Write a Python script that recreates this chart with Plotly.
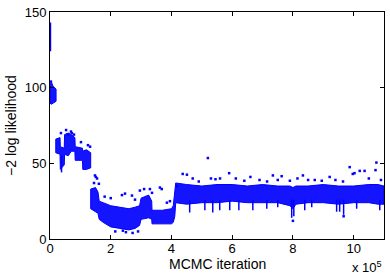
import plotly.graph_objects as go

# ---- data (iteration, -2 log likelihood) ----
# dense band of the trace: per knot lower / upper envelope, grouped in segments
band_seg = [0, 0, 0, 0,
            1, 1, 1, 1, 1, 1, 1, 1, 1, 1, 1, 1, 1,
            2, 2, 2, 2, 2, 2, 2, 2, 2, 2, 2,
            2, 2, 2, 2, 2, 2, 2, 2,
            2, 2, 2, 2, 2, 2, 2, 2, 2, 2,
            2, 2, 2, 2, 2, 2, 2]
band_iter = [0, 4000, 10000, 20000,
             19000, 33000, 34000, 47000, 48000, 60000, 70000, 82000, 83000, 107000, 108000, 120000, 134000,
             134000, 150000, 158000, 162000, 175000, 200000, 230000, 260000, 280000, 295000, 300000,
             325000, 335000, 336000, 370000, 400000, 406000, 411000, 414000,
             450000, 500000, 550000, 600000, 650000, 700000, 750000, 790000, 800000, 810000,
             850000, 900000, 950000, 1000000, 1050000, 1080000, 1100000]
band_lo = [90, 89, 90, 91,
           57, 56, 46, 49, 56, 55, 58, 58, 52, 52, 46, 46, 47,
           20, 18, 17, 13, 11, 8, 7, 6, 7, 9, 13,
           14, 13, 10, 10, 10, 11, 15, 24,
           23, 24, 24, 25, 24, 24, 24, 22, 20, 23,
           24, 24, 23, 24, 24, 23, 23]
band_hi = [101, 104, 101, 99,
           66, 67, 61, 60, 69, 70, 69, 67, 61, 60, 58, 59, 57,
           33, 34, 31, 25, 24, 22, 21, 20, 21, 22, 27,
           29, 25, 19, 19, 20, 22, 30, 37,
           36, 35, 36, 36, 35, 36, 35, 35, 34, 35,
           35, 36, 35, 35, 36, 36, 35]

# narrow excursions (vertical runs of samples)
spike_iter = [1500, 38000, 460000, 510000, 536000, 559000, 592000, 622000, 668000, 714000,
              750000, 796000, 803000, 839000, 862000, 944000, 954000, 967000, 1010000, 1086000]
spike_lo = [124, 44, 17.5, 19, 17.5, 19, 19, 19, 19, 20,
            21, 14, 15, 19, 21, 18, 18, 16, 20, 19]
spike_hi = [143, 55, 26, 26, 26, 26, 26, 26, 26, 26,
            26, 26, 26, 26, 26, 26, 26, 26, 26, 26]

# isolated samples outside the band
out_iter = [3000, 36000, 53000, 59000, 69000, 72000, 79000, 102000, 125000, 132000,
            145000, 148000, 151000, 155000, 161000,
            180000, 200000, 215000, 237000, 240000, 247000, 250000, 270000, 272000, 280000,
            290000, 296000, 310000, 329000, 336000, 362000, 368000, 385000, 395000, 418000,
            437000, 451000, 470000, 490000, 520000, 530000, 545000, 560000, 590000, 612000,
            640000, 660000, 690000, 715000, 734000, 750000, 763000, 790000, 800000, 815000,
            833000, 850000, 872000, 895000, 921000, 940000, 965000, 967000, 987000, 997000,
            1003000, 1020000, 1036000, 1050000, 1072000, 1075000, 1090000]
out_val = [104, 70, 72, 69, 71, 70, 69, 64, 62, 61,
           37, 42, 41, 40, 36.5,
           28, 27, 5, 29, 5.5, 30, 4.5, 28.7, 4, 26,
           5, 32, 33, 33, 30.5, 34, 33, 24, 25, 35,
           43, 42.5, 40, 38, 53.5, 40, 39.5, 40, 43.5, 40,
           38.5, 41, 39, 38, 42, 39, 41.5, 38.5, 12, 40,
           42, 39, 39, 38.5, 41, 39, 38, 15, 47.5, 43,
           43.5, 45, 45, 40, 45.5, 50.5, 39]

x_tick_vals = [0, 200000, 400000, 600000, 800000, 1000000]
x_tick_text = ["0", "2", "4", "6", "8", "10"]
y_tick_vals = [0, 50, 100, 150]

BLUE = "rgb(0,0,255)"
FONT = "Liberation Sans, Arial, Helvetica, sans-serif"

# ---- build band polygons ----
poly_x, poly_y = [], []
for s in sorted(set(band_seg)):
    idx = [i for i, g in enumerate(band_seg) if g == s]
    xs = [band_iter[i] for i in idx]
    lo = [band_lo[i] for i in idx]
    hi = [band_hi[i] for i in idx]
    poly_x += xs + xs[::-1] + [xs[0], None]
    poly_y += hi + lo[::-1] + [hi[0], None]

spx, spy = [], []
for i, lo, hi in zip(spike_iter, spike_lo, spike_hi):
    spx += [i, i, None]
    spy += [lo, hi, None]

fig = go.Figure()
fig.add_trace(go.Scatter(x=poly_x, y=poly_y, mode="lines", fill="toself",
                         fillcolor="rgba(0,0,255,0.92)", line=dict(color=BLUE, width=1),
                         hoverinfo="skip", showlegend=False))
fig.add_trace(go.Scatter(x=spx, y=spy, mode="lines",
                         line=dict(color=BLUE, width=1.5),
                         hoverinfo="skip", showlegend=False))
fig.add_trace(go.Scatter(x=out_iter, y=out_val, mode="markers",
                         marker=dict(color=BLUE, size=2.5, symbol="square"),
                         showlegend=False))

axis_common = dict(showline=True, linecolor="black", linewidth=1, mirror="ticks",
                   ticks="inside", ticklen=4, tickcolor="black", showgrid=False,
                   zeroline=False, tickfont=dict(family=FONT, size=13, color="black"))

fig.update_layout(
    width=390, height=274,
    margin=dict(l=50, r=5, t=9, b=35),
    paper_bgcolor="white", plot_bgcolor="white",
    xaxis=dict(range=[0, 1100000], tickvals=x_tick_vals, ticktext=x_tick_text,
               ticklabelstandoff=-3, **axis_common),
    yaxis=dict(range=[0, 150], tickvals=y_tick_vals,
               title=dict(text="\u22122 log likelihood", font=dict(family=FONT, size=14, color="black"),
                          standoff=4),
               **axis_common),
    annotations=[
        dict(text="MCMC iteration", x=0.5, y=-0.11, xref="paper", yref="paper",
             xanchor="center", yanchor="middle", showarrow=False,
             font=dict(family=FONT, size=14, color="black")),
        dict(text="x 10<sup>5</sup>", x=1.0, y=-0.125, xref="paper", yref="paper",
             xanchor="right", yanchor="middle", showarrow=False,
             font=dict(family=FONT, size=13, color="black")),
    ],
)

fig.write_html("out.html", config={"displayModeBar": False},
               post_script="document.body.style.margin='0';")
